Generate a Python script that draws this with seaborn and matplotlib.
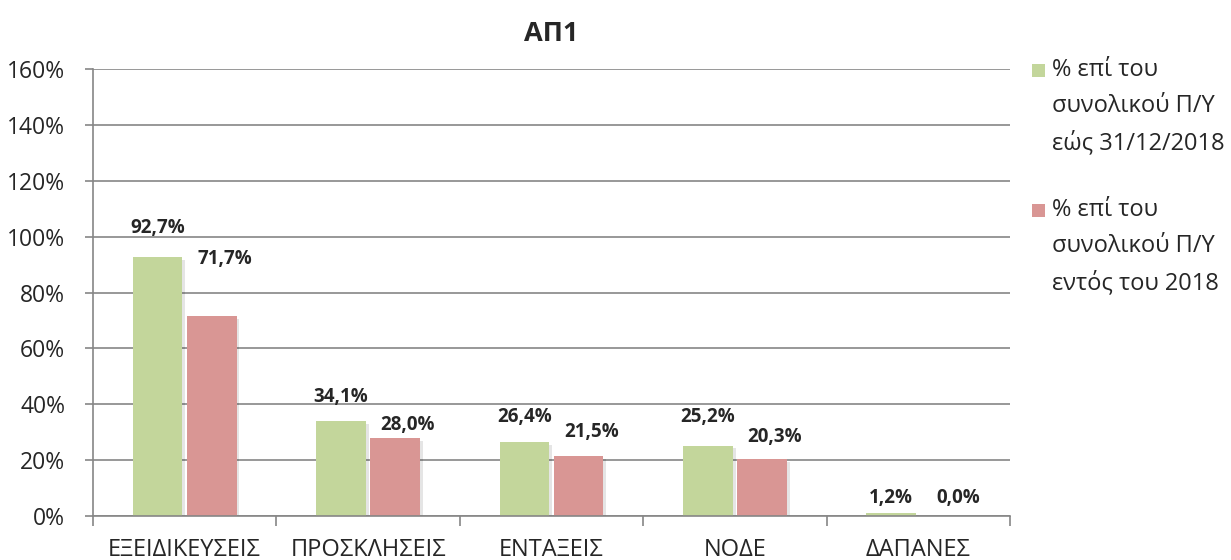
import matplotlib
matplotlib.use("Agg")
import matplotlib.pyplot as plt
import matplotlib.patheffects as pe
import seaborn as sns
import pandas as pd
from matplotlib.patches import Rectangle

categories = ["ΕΞΕΙΔΙΚΕΥΣΕΙΣ", "ΠΡΟΣΚΛΗΣΕΙΣ", "ΕΝΤΑΞΕΙΣ", "ΝΟΔΕ", "ΔΑΠΑΝΕΣ"]
series_names = ["% επί του\nσυνολικού Π/Υ\nεώς 31/12/2018",
                "% επί του\nσυνολικού Π/Υ\nεντός του 2018"]
values_total = [92.7, 34.1, 26.4, 25.2, 1.2]
values_2018 = [71.7, 28.0, 21.5, 20.3, 0.0]
label_total = ["92,7%", "34,1%", "26,4%", "25,2%", "1,2%"]
label_2018 = ["71,7%", "28,0%", "21,5%", "20,3%", "0,0%"]
# label heights (Excel placement) in data units
label_y_total = [103, 42.6, 35.4, 35.4, 6.4]
label_y_2018 = [92, 32.6, 30, 28.3, 6.4]
yticks = [0, 20, 40, 60, 80, 100, 120, 140, 160]
title = "ΑΠ1"

colors = ["#C3D69B", "#D99694"]

sns.set_theme(style="white")
plt.rcParams['font.family'] = ['Open Sans', 'DejaVu Sans']

df = pd.DataFrame({
    "cat": categories * 2,
    "series": [series_names[0]] * 5 + [series_names[1]] * 5,
    "value": values_total + values_2018,
})

fig = plt.figure(figsize=(12.31, 5.6), dpi=100)
ax = fig.add_axes([0.0755, 0.0786, 0.745, 0.798])

sns.barplot(data=df, x="cat", y="value", hue="series", hue_order=series_names,
            palette=colors, width=0.59, gap=0.08, ax=ax, legend=False,
            saturation=1, edgecolor="none")

for p in ax.patches:
    p.set_path_effects([pe.SimplePatchShadow(offset=(2, -2), alpha=0.10, shadow_rgbFace="black"),
                        pe.Normal()])

ax.set_ylim(0, 160)
ax.set_xlim(-0.5, 4.5)
ax.set_yticks(yticks)
ax.set_yticklabels([f"{t}%" for t in yticks], fontsize=16.5)
ax.yaxis.grid(True, color="#868686", linewidth=1.2)
ax.set_axisbelow(True)
ax.set_xlabel("")
ax.set_ylabel("")

# x ticks: major at boundaries (marks), minor at centers (labels)
ax.set_xticks([i - 0.5 for i in range(6)])
ax.set_xticklabels([])
ax.set_xticks(range(5), minor=True)
ax.set_xticklabels(categories, minor=True, fontsize=17)
ax.tick_params(axis="x", which="major", length=7, width=1.2, color="#868686", direction="out", bottom=True)
ax.tick_params(axis="x", which="minor", length=0, pad=16)
ax.tick_params(axis="y", length=6, width=1.2, color="#868686", direction="out", left=True, pad=14)

for s in ["top", "right"]:
    ax.spines[s].set_visible(False)
for s in ["left", "bottom"]:
    ax.spines[s].set_color("#868686")
    ax.spines[s].set_linewidth(1.2)

off = 0.59 / 4
for i in range(5):
    ax.text(i - off, label_y_total[i], label_total[i], ha="center", va="center",
            fontsize=13.5, fontweight="bold")
    ax.text(i + off + 0.07, label_y_2018[i], label_2018[i], ha="center", va="center",
            fontsize=13.5, fontweight="bold")

ax.set_title(title, fontsize=19.5, fontweight="bold", pad=20)

# legend drawn manually (handle aligned with first text line, as in Excel)
W, H = 1231, 560
leg_tops = [70, 210]
for k, (name, c) in enumerate(zip(series_names, colors)):
    yc = leg_tops[k]
    fig.patches.append(Rectangle((1032 / W, 1 - (yc + 7) / H), 13 / W, 13 / H,
                                 transform=fig.transFigure, facecolor=c, edgecolor="none"))
    for j, line in enumerate(name.split("\n")):
        fig.text(1052 / W, 1 - (yc + j * 36.5) / H, line, ha="left", va="center",
                 fontsize=17)

fig.savefig("out.png", dpi=100)
